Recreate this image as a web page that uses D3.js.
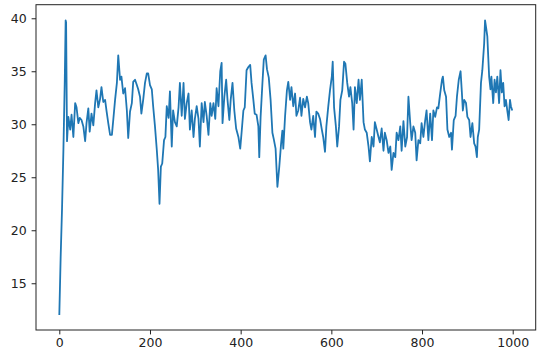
<!DOCTYPE html>
<html>
<head>
<meta charset="utf-8">
<script src="https://cdn.jsdelivr.net/npm/d3@7"></script>
<style>
  body { margin: 0; background: #fff; }
  text { font-family: "DejaVu Sans", sans-serif; }
</style>
</head>
<body>
<script>
// values (step index, value)
const steps = [0, 3, 6, 9, 12, 14, 15, 17, 20, 24, 27, 31, 35, 38, 42, 45, 49, 53, 57, 60, 64, 67, 71, 75, 79, 82, 86, 90, 93, 97,
  101, 104, 108, 112, 116, 119, 123, 127, 130, 134, 137, 141, 145, 149, 152, 156, 160, 163, 167, 171, 174, 178, 181, 185, 189, 193, 196,
  200, 204, 207, 211, 215, 218, 221, 224, 227, 231, 234, 237, 241, 244, 248, 251, 255, 259, 263, 266, 270, 274, 277, 281, 285, 288, 292, 296, 299,
  303, 307, 310, 314, 318, 321, 325, 329, 333, 336, 340, 344, 347, 351, 355, 358, 360, 364, 368, 371, 375, 378, 382, 386, 390, 395, 399,
  402, 406, 409, 413, 417, 421, 424, 428, 431, 435, 439, 441, 444, 448, 451, 455, 458, 462, 466, 470, 473, 477, 481, 485, 489, 492, 494, 498,
  502, 505, 509, 512, 516, 520, 523, 527, 531, 534, 538, 542, 546, 549, 553, 556, 560, 564, 567, 571, 575, 579, 582, 586, 589, 593, 597,
  601, 603, 606, 610, 613, 617, 620, 624, 628, 631, 635, 639, 642, 646, 649, 652, 656, 660, 663, 667, 671, 674, 678, 682, 685, 689, 693, 696,
  700, 704, 707, 711, 715, 718, 722, 726, 730, 733, 737, 741, 744, 748, 752, 755, 759, 763, 767, 770, 774, 777, 781, 785, 788, 792, 796, 799,
  803, 807, 810, 814, 818, 822, 825, 829, 833, 836, 840, 844, 846, 849, 853, 856, 860, 864, 866, 870, 874, 877, 881, 885, 888, 890, 893, 897,
  900, 904, 907, 911, 915, 918, 921, 923, 926, 930, 933, 937, 939, 941, 944, 946, 948, 951, 953, 957, 960, 963, 966, 970, 973, 976, 979,
  982, 985, 988, 991, 994, 996, 999];
const values = [12.0, 17.5, 22.0, 27.5, 34.0, 39.8, 39.6, 28.4, 30.7, 29.5, 30.9, 28.8, 32.0, 31.6, 30.1, 30.6, 30.4, 29.8, 28.4, 30.1, 31.5, 29.3, 31.0, 29.9, 32.0, 33.2, 31.6, 32.4, 33.5, 32.1,
  32.3, 31.3, 30.1, 29.0, 29.0, 30.4, 32.3, 33.9, 36.5, 34.2, 34.5, 32.9, 33.4, 31.3, 28.7, 31.2, 32.0, 34.0, 34.2, 33.7, 33.3, 32.6, 31.0, 32.3, 33.9, 34.8, 34.8,
  33.7, 33.3, 31.7, 29.8, 27.6, 25.7, 22.5, 26.0, 26.3, 28.5, 28.8, 31.7, 30.6, 33.1, 27.9, 31.3, 30.2, 29.8, 31.6, 33.9, 30.8, 33.9, 30.5, 32.0, 32.9, 29.5, 31.3, 28.8, 30.5,
  31.7, 30.5, 27.9, 32.0, 30.2, 32.1, 30.8, 29.0, 32.0, 30.8, 32.0, 30.5, 33.4, 31.7, 35.0, 35.8, 30.1, 32.6, 34.2, 32.3, 30.4, 32.3, 33.9, 31.3, 29.6, 28.8, 27.7,
  29.2, 31.3, 31.6, 35.1, 35.4, 35.6, 33.9, 32.3, 31.0, 30.9, 29.8, 26.9, 30.7, 33.9, 36.1, 36.5, 35.2, 34.4, 32.3, 29.2, 28.6, 27.7, 24.1, 25.9, 28.1, 29.4, 27.7, 30.8,
  33.2, 34.0, 32.3, 33.5, 31.7, 32.9, 30.8, 31.3, 32.5, 30.8, 32.4, 31.6, 32.6, 32.0, 30.2, 29.5, 30.8, 28.8, 31.2, 31.0, 30.5, 29.5, 28.8, 27.4, 29.8, 31.6, 33.2,
  34.5, 35.9, 31.6, 29.8, 27.9, 29.8, 32.3, 33.2, 35.9, 35.7, 33.9, 32.6, 33.5, 32.0, 29.5, 33.5, 32.0, 34.2, 32.3, 34.2, 30.2, 29.5, 29.2, 27.9, 26.5, 28.8, 27.9, 30.2,
  29.5, 28.8, 28.3, 29.6, 27.5, 29.2, 28.5, 27.3, 27.9, 25.7, 27.3, 26.9, 29.2, 28.5, 29.8, 27.5, 30.3, 27.9, 28.8, 32.6, 30.1, 28.5, 29.8, 29.2, 26.6, 28.5, 28.2, 30.1,
  28.8, 30.4, 31.3, 28.5, 31.0, 28.5, 31.3, 30.7, 31.6, 31.5, 32.9, 34.2, 34.5, 33.2, 32.6, 29.5, 28.8, 29.2, 27.6, 30.4, 30.8, 32.6, 34.2, 35.0, 32.9, 31.3, 32.3, 32.0,
  30.7, 30.4, 28.8, 30.1, 28.2, 27.9, 26.9, 28.8, 29.5, 33.9, 35.1, 37.6, 39.8, 39.2, 38.3, 36.4, 34.5, 33.3, 34.5, 32.0, 34.2, 33.0, 34.5, 32.0, 35.1, 33.0, 33.9,
  31.7, 32.3, 31.3, 30.4, 32.3, 31.7, 31.3];
const xTicks = [0, 200, 400, 600, 800, 1000];
const yTicks = [15, 20, 25, 30, 35, 40];

const width = 540, height = 358;
const plotLeft = 36, plotRight = 535.7, plotTop = 4.7, plotBottom = 330;

const svg = d3.select('body').append('svg')
  .attr('width', width)
  .attr('height', height);

const x = d3.scaleLinear().domain([-51.4, 1050.7]).range([plotLeft, plotRight]);
const y = d3.scaleLinear().domain([10.59, 41.28]).range([plotBottom, plotTop]);

const data = steps.map((s, i) => ({ step: s, value: values[i] }));

const line = d3.line()
  .x(d => x(d.step))
  .y(d => y(d.value));

svg.append('path')
  .datum(data)
  .attr('d', line)
  .attr('fill', 'none')
  .attr('stroke', '#1f77b4')
  .attr('stroke-width', 1.8)
  .attr('stroke-linejoin', 'round');

// axes, matplotlib look
const xAxis = svg.append('g')
  .attr('transform', `translate(0,${plotBottom})`)
  .call(d3.axisBottom(x).tickValues(xTicks).tickSize(4.4).tickPadding(4).tickFormat(d3.format('d')));
const yAxis = svg.append('g')
  .attr('transform', `translate(${plotLeft},0)`)
  .call(d3.axisLeft(y).tickValues(yTicks).tickSize(4.4).tickPadding(5).tickFormat(d3.format('d')));

[xAxis, yAxis].forEach(g => {
  g.select('.domain').remove();
  g.selectAll('line').attr('stroke', '#222').attr('stroke-width', 1);
  g.selectAll('text').attr('fill', '#222').style('font-size', '12.5px')
    .style('font-family', '"DejaVu Sans", sans-serif');
});

svg.append('rect')
  .attr('x', plotLeft)
  .attr('y', plotTop)
  .attr('width', plotRight - plotLeft)
  .attr('height', plotBottom - plotTop)
  .attr('fill', 'none')
  .attr('stroke', '#222')
  .attr('stroke-width', 1);
</script>
</body>
</html>
